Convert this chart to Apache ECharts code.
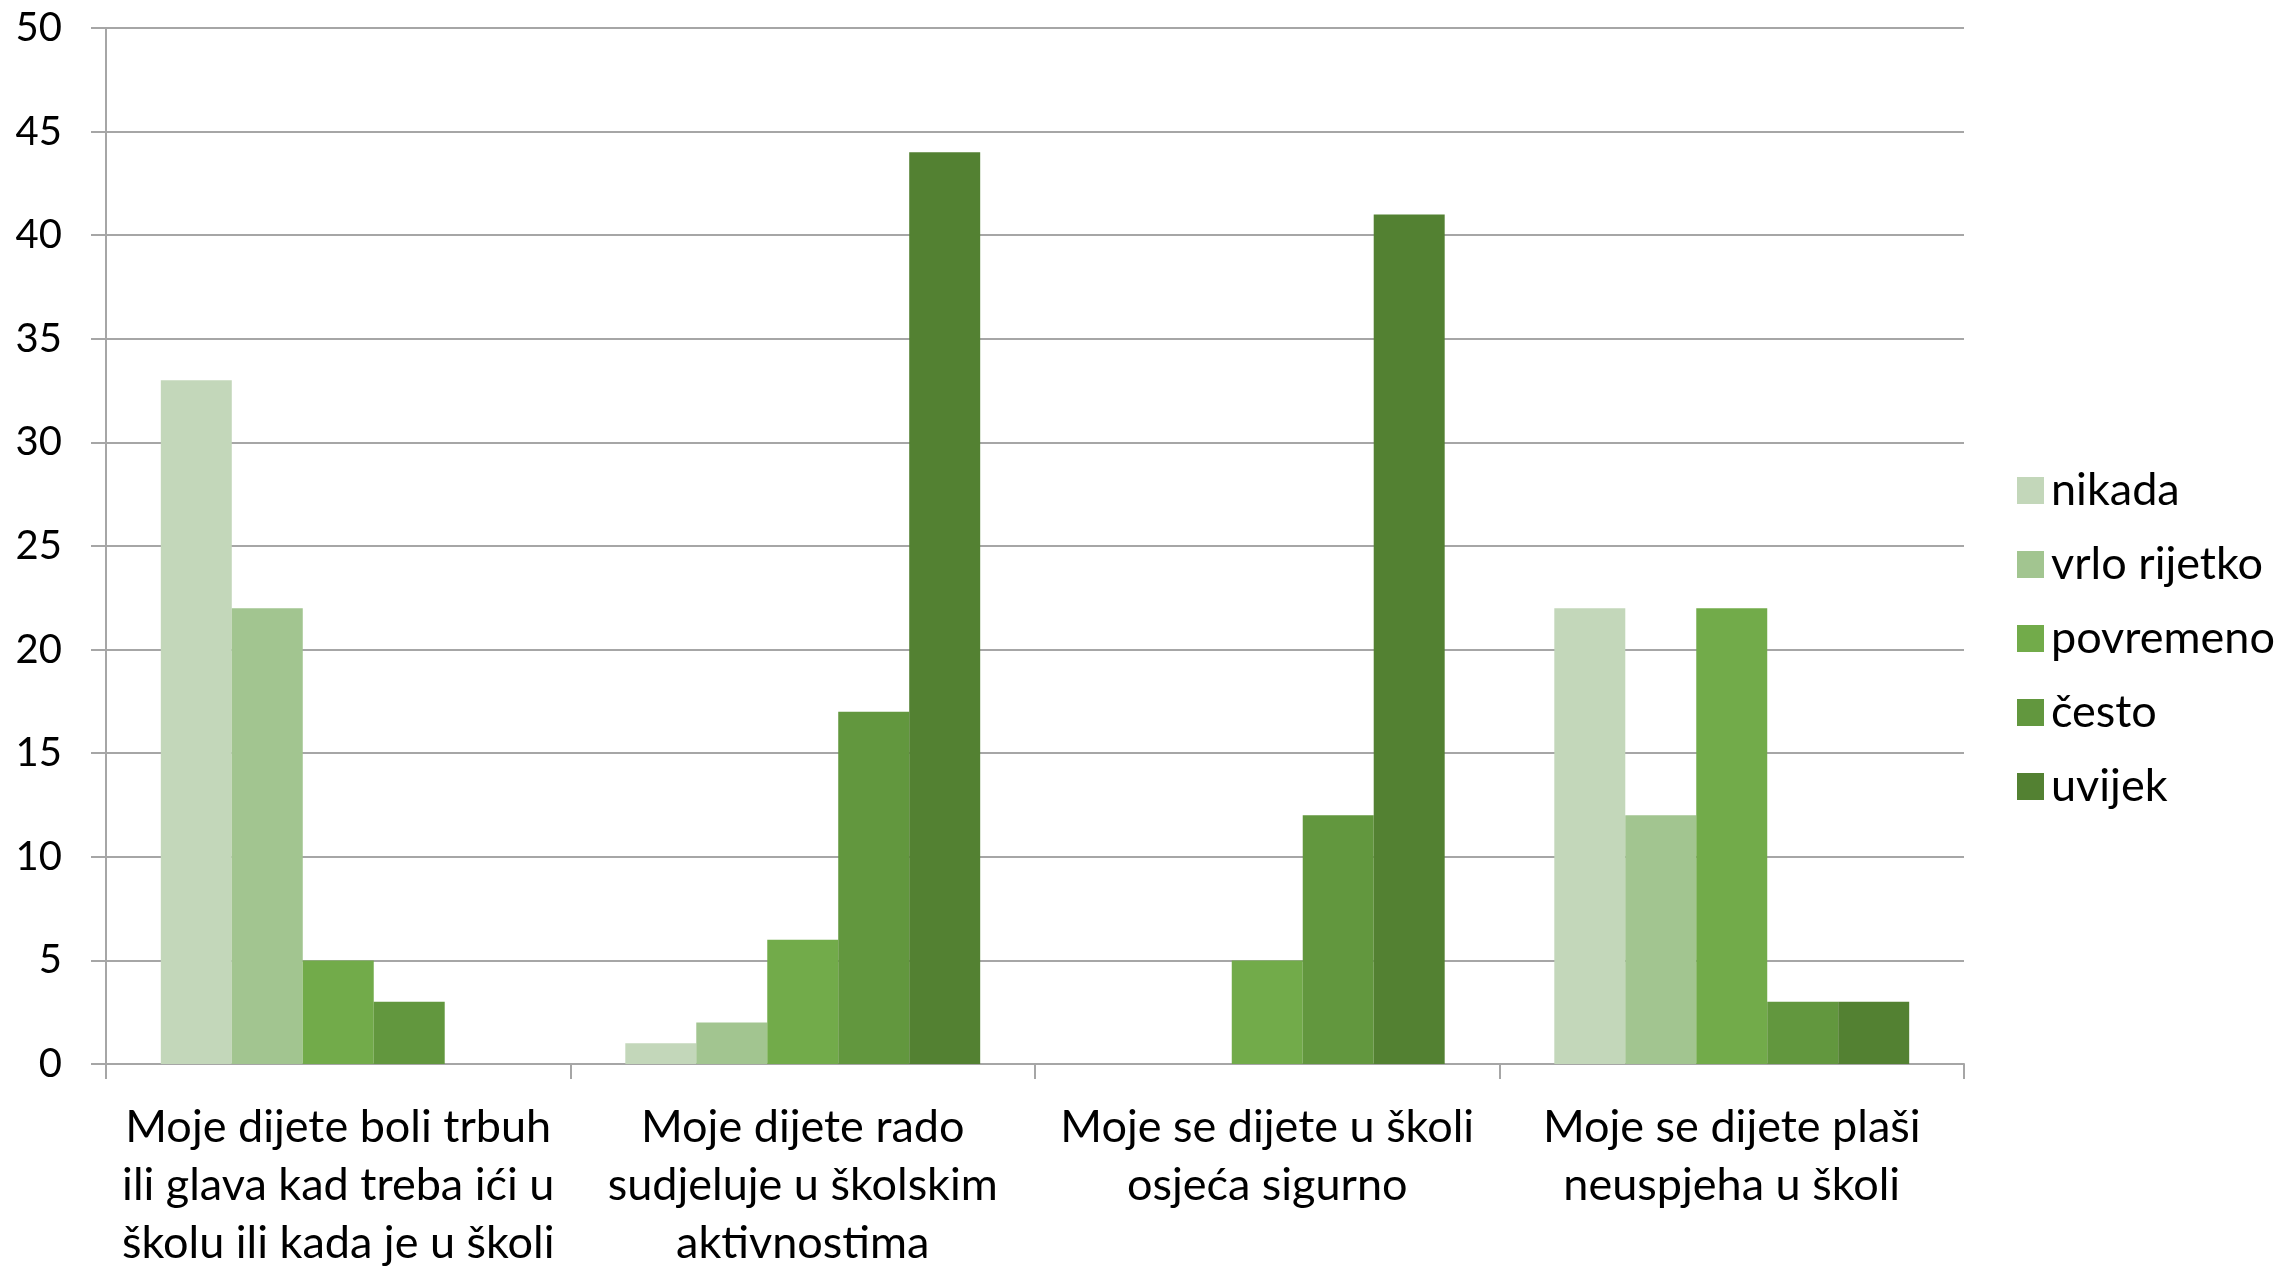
<!DOCTYPE html>
<html>
<head>
<meta charset="utf-8">
<style>
  html, body { margin: 0; padding: 0; background: #fff; }
  #chart { width: 2282px; height: 1266px; }
</style>
<script src="https://cdn.jsdelivr.net/npm/echarts@6/dist/echarts.min.js"></script>
</head>
<body>
<div id="chart"></div>
<script>
  // kategorije (pitanja)
  const categories = [
    'Moje dijete boli trbuh\nili glava kad treba ići u\nškolu ili kada je u školi',
    'Moje dijete rado\nsudjeluje u školskim\naktivnostima',
    'Moje se dijete u školi\nosjeća sigurno',
    'Moje se dijete plaši\nneuspjeha u školi'
  ]
  const seriesNames = ['nikada', 'vrlo rijetko', 'povremeno', 'često', 'uvijek']
  const nikada = [33, 1, 0, 22]
  const vrloRijetko = [22, 2, 0, 12]
  const povremeno = [5, 6, 5, 22]
  const cesto = [3, 17, 12, 3]
  const uvijek = [0, 44, 41, 3]
  const yTicks = [0, 5, 10, 15, 20, 25, 30, 35, 40, 45, 50]

  const values = [nikada, vrloRijetko, povremeno, cesto, uvijek]
  const colors = ['#C3D7BA', '#A2C590', '#72AB4A', '#62973E', '#538132']
  const font = 'Lato, "Open Sans", sans-serif'
  const gridColor = '#A6A6A6'

  const chart = echarts.init(document.getElementById('chart'))
  chart.setOption({
    animation: false,
    textStyle: { fontFamily: font },
    grid: {
      left: 106,
      right: 318,
      top: 28,
      height: 1036,
      outerBoundsMode: 'none'
    },
    legend: {
      orient: 'vertical',
      left: 2012,
      top: 463,
      itemWidth: 27,
      itemHeight: 27,
      itemGap: 29,
      icon: 'rect',
      data: seriesNames,
      textStyle: {
        fontFamily: font,
        fontSize: 45,
        lineHeight: 45,
        color: '#000',
        padding: [0, 0, 0, 2]
      }
    },
    xAxis: {
      type: 'category',
      data: categories,
      axisLine: { lineStyle: { color: gridColor, width: 2 } },
      axisTick: { show: true, length: 15, lineStyle: { color: gridColor, width: 2 } },
      axisLabel: {
        interval: 0,
        margin: 34,
        fontSize: 45,
        lineHeight: 58,
        color: '#000',
        fontFamily: font
      }
    },
    yAxis: {
      type: 'value',
      min: yTicks[0],
      max: yTicks[yTicks.length - 1],
      interval: 5,
      axisLine: { show: true, lineStyle: { color: gridColor, width: 2 } },
      axisTick: { show: true, length: 15, lineStyle: { color: gridColor, width: 2 } },
      splitLine: { lineStyle: { color: gridColor, width: 2 } },
      axisLabel: {
        margin: 44,
        fontSize: 40,
        color: '#000',
        fontFamily: font
      }
    },
    series: seriesNames.map((name, i) => ({
      name: name,
      type: 'bar',
      data: values[i],
      barGap: '0%',
      barCategoryGap: '23.6%',
      itemStyle: { color: colors[i] }
    }))
  })
</script>
</body>
</html>
